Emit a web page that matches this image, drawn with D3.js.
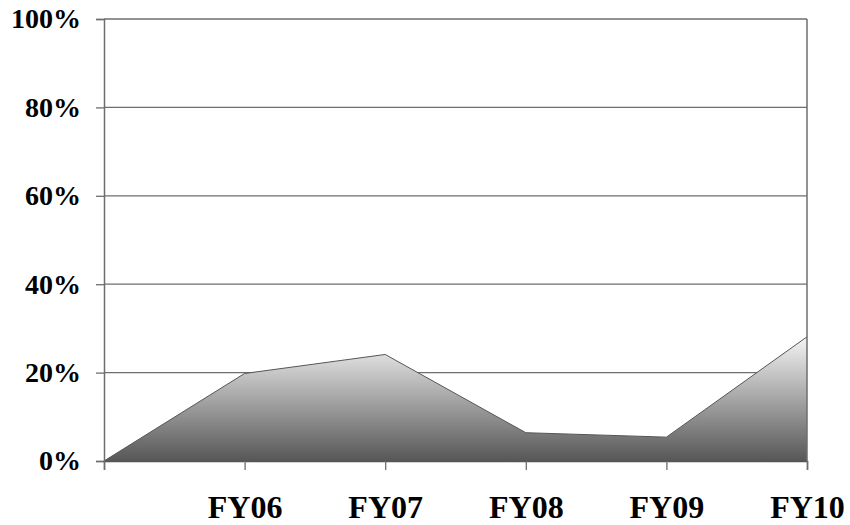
<!DOCTYPE html>
<html><head><meta charset="utf-8">
<script src="https://cdn.jsdelivr.net/npm/d3@7/dist/d3.min.js"></script>
<style>body{margin:0;background:#fff}svg{display:block}</style>
</head><body>
<script>
const categories = ["", "FY06", "FY07", "FY08", "FY09", "FY10"];
const values = [0, 19.8, 24.1, 6.4, 5.4, 28.1];
const yTicks = [0, 20, 40, 60, 80, 100];

const W = 850, H = 525;
const m = {left: 104, right: 43, top: 19, bottom: 64};
const svg = d3.select("body").append("svg").attr("width", W).attr("height", H);

const x = d3.scalePoint().domain(categories).range([m.left, W - m.right]);
const y = d3.scaleLinear().domain([0, 100]).range([H - m.bottom, m.top]);

const defs = svg.append("defs");
const g = defs.append("linearGradient").attr("id", "grad")
  .attr("x1", 0).attr("y1", 0).attr("x2", 0).attr("y2", 1);
g.append("stop").attr("offset", "0%").attr("stop-color", "#f4f4f4");
g.append("stop").attr("offset", "100%").attr("stop-color", "#575757");

// gridlines
svg.append("g").selectAll("line").data(yTicks.filter(d => d > 0)).join("line")
  .attr("x1", m.left).attr("x2", W - m.right)
  .attr("y1", d => y(d)).attr("y2", d => y(d))
  .attr("stroke", "#6e6e6e").attr("stroke-width", 1.3);

const data = categories.map((c, i) => ({c, v: values[i]}));
const area = d3.area().x(d => x(d.c)).y0(y(0)).y1(d => y(d.v));
svg.append("path").datum(data).attr("d", area).attr("fill", "url(#grad)");
const line = d3.line().x(d => x(d.c)).y(d => y(d.v));
svg.append("path").datum(data).attr("d", line).attr("fill", "none")
  .attr("stroke", "#555").attr("stroke-width", 1);

// right border
svg.append("line").attr("x1", W - m.right).attr("x2", W - m.right)
  .attr("y1", y(100)).attr("y2", y(0)).attr("stroke", "#6e6e6e").attr("stroke-width", 1.5);

const FONT = "'Liberation Serif', 'Times New Roman', serif";

// y axis
const yAxis = svg.append("g").attr("transform", `translate(${m.left},0)`)
  .call(d3.axisLeft(y).tickValues(yTicks).tickSize(8).tickPadding(15).tickFormat(d => d + "%"));
yAxis.select(".domain").attr("stroke", "#6e6e6e").attr("stroke-width", 1.5);
yAxis.selectAll(".tick line").attr("stroke", "#6e6e6e").attr("stroke-width", 1.3);
yAxis.selectAll("text").attr("font-family", FONT)
  .attr("font-weight", "bold").attr("font-size", 28).attr("fill", "#000");

// x axis
const xAxis = svg.append("g").attr("transform", `translate(0,${y(0)})`)
  .call(d3.axisBottom(x).tickSize(9));
xAxis.select(".domain").attr("stroke", "#555").attr("stroke-width", 1.5);
xAxis.selectAll(".tick line").attr("stroke", "#6e6e6e").attr("stroke-width", 1.3);
xAxis.selectAll("text").attr("font-family", FONT)
  .attr("font-weight", "bold").attr("font-size", 32).attr("fill", "#000")
  .attr("y", 57).attr("dy", 0);
</script>
</body></html>
